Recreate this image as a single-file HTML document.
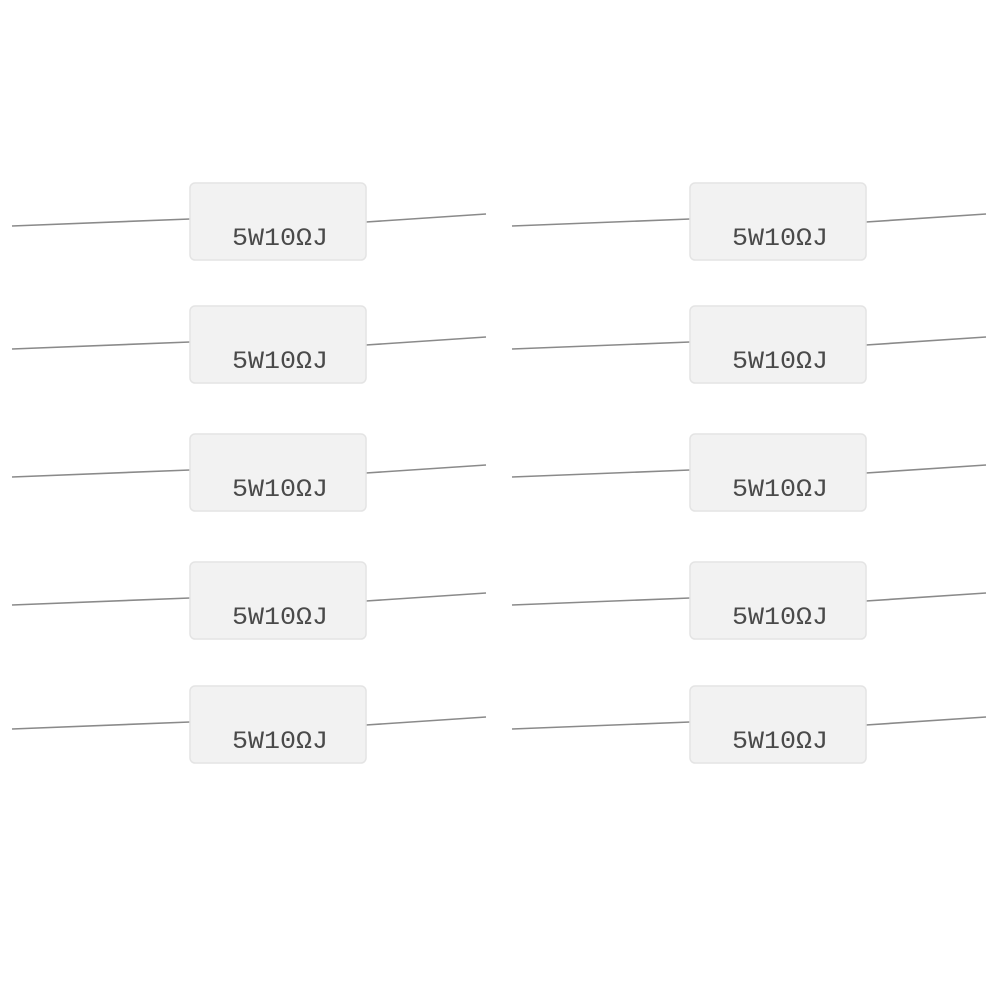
<!DOCTYPE html>
<html><head><meta charset="utf-8"><style>
html,body{margin:0;padding:0;background:#fff;}
svg{display:block}
text{font-family:"Liberation Mono",monospace;font-size:25px;fill:#4a4a4a;}
</style></head><body>
<svg width="1001" height="1001" viewBox="0 0 1001 1001">
<defs>
<g id="r">
<line x1="12" y1="43" x2="190" y2="36" stroke="#8a8a8a" stroke-width="1.6"/>
<line x1="366" y1="39" x2="486" y2="31" stroke="#8a8a8a" stroke-width="1.6"/>
<rect x="190" y="0" width="176" height="77" rx="5" fill="#f2f2f2" stroke="#e4e4e4" stroke-width="1.5"/>
<text x="280" y="62" text-anchor="middle" textLength="96" lengthAdjust="spacingAndGlyphs">5W10ΩJ</text>
</g>
</defs>
<use href="#r" x="0" y="183"/>
<use href="#r" x="0" y="306"/>
<use href="#r" x="0" y="434"/>
<use href="#r" x="0" y="562"/>
<use href="#r" x="0" y="686"/>
<use href="#r" x="500" y="183"/>
<use href="#r" x="500" y="306"/>
<use href="#r" x="500" y="434"/>
<use href="#r" x="500" y="562"/>
<use href="#r" x="500" y="686"/>
</svg>
</body></html>
